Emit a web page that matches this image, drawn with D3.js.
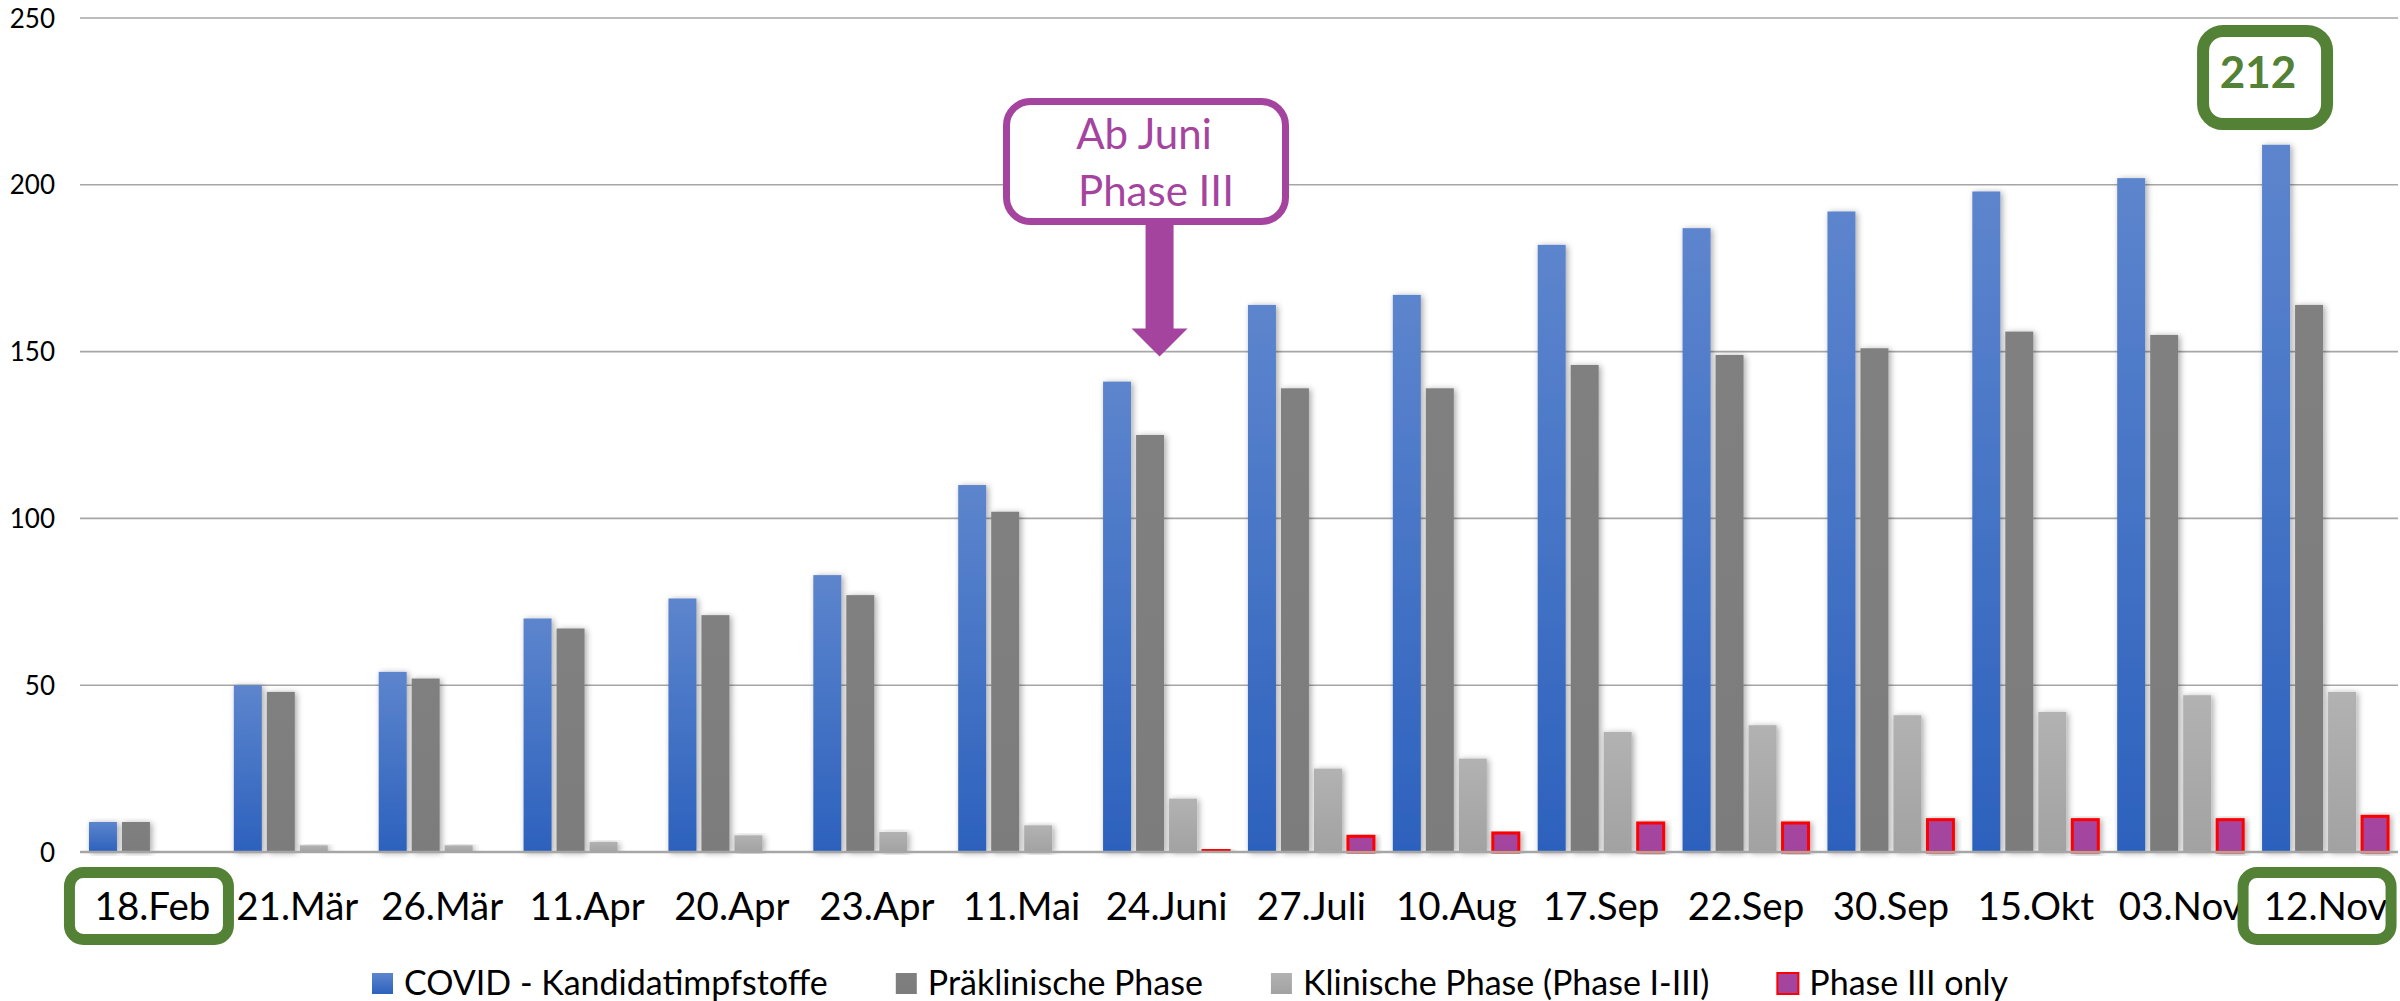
<!DOCTYPE html>
<html>
<head>
<meta charset="utf-8">
<script src="https://cdn.jsdelivr.net/npm/d3@7"></script>
<style>
  html, body { margin: 0; padding: 0; background: #ffffff; }
  svg { display: block; }
  text { font-family: Lato, "Open Sans", sans-serif; }
</style>
</head>
<body>
<svg id="chart" width="2400" height="1001"></svg>
<script>
// ---- data ----
const categories = ["18.Feb","21.Mär","26.Mär","11.Apr","20.Apr","23.Apr","11.Mai","24.Juni","27.Juli","10.Aug","17.Sep","22.Sep","30.Sep","15.Okt","03.Nov","12.Nov"];
const candidates  = [9, 50, 54, 70, 76, 83, 110, 141, 164, 167, 182, 187, 192, 198, 202, 212];
const preclinical = [9, 48, 52, 67, 71, 77, 102, 125, 139, 139, 146, 149, 151, 156, 155, 164];
const clinical    = [0, 2, 2, 3, 5, 6, 8, 16, 25, 28, 36, 38, 41, 42, 47, 48];
const phase3      = [0, 0, 0, 0, 0, 0, 0, 1, 5, 6, 9, 9, 10, 10, 10, 11];
const seriesNames = ["COVID - Kandidatimpfstoffe", "Präklinische Phase", "Klinische Phase (Phase I-III)", "Phase III only"];
const yTicks = [0, 50, 100, 150, 200, 250];
const calloutLines = ["Ab Juni", "Phase III"];
const highlightValue = "212";
const highlightCats = ["18.Feb", "12.Nov"];

const seriesValues = [candidates, preclinical, clinical, phase3];

// ---- layout ----
const svg = d3.select("#chart");
const W = 2400, H = 1001;
const plot = { left: 80, right: 2398, top: 18, bottom: 852 };

svg.append("rect").attr("width", W).attr("height", H).attr("fill", "#ffffff");

const defs = svg.append("defs");
function vgrad(id, top, bottom) {
  const g = defs.append("linearGradient").attr("id", id)
    .attr("x1", 0).attr("y1", 0).attr("x2", 0).attr("y2", 1);
  g.append("stop").attr("offset", "0%").attr("stop-color", top);
  g.append("stop").attr("offset", "100%").attr("stop-color", bottom);
}
vgrad("gBlue", "#5d85cd", "#2c61bd");
vgrad("gDark", "#808080", "#7c7c7c");
vgrad("gLight", "#b2b2b2", "#a2a2a2");
vgrad("gPurple", "#a6449f", "#a2449e");
const f = defs.append("filter").attr("id", "shadow")
  .attr("x", "-30%").attr("y", "-10%").attr("width", "160%").attr("height", "120%");
f.append("feDropShadow").attr("dx", 2).attr("dy", 1).attr("stdDeviation", 3)
  .attr("flood-color", "#000").attr("flood-opacity", 0.35);

const seriesFill = ["url(#gBlue)", "url(#gDark)", "url(#gLight)", "url(#gPurple)"];
const legendFill = ["url(#gBlue)", "url(#gDark)", "url(#gLight)", "url(#gPurple)"];

const x = d3.scaleBand().domain(categories).range([plot.left, plot.right]).paddingInner(0).paddingOuter(0);
const xs = d3.scaleBand().domain(d3.range(4)).range([0, x.bandwidth()]).paddingInner(0.1515).paddingOuter(0.271);
const y = d3.scaleLinear().domain([0, 250]).range([plot.bottom, plot.top]);

// gridlines
svg.append("g").selectAll("line").data(yTicks.filter(t => t > 0)).join("line")
  .attr("x1", plot.left).attr("x2", plot.right)
  .attr("y1", d => y(d)).attr("y2", d => y(d))
  .attr("stroke", "#a6a6a6").attr("stroke-width", 1.6);

// y axis labels
const yAxis = d3.axisLeft(y).tickValues(yTicks).tickSize(0).tickPadding(0);
const yg = svg.append("g").attr("transform", `translate(55,0)`).call(yAxis);
yg.select(".domain").remove();
yg.selectAll("text").attr("font-size", 26).attr("fill", "#000")
  .style("font-family", "Lato, sans-serif").attr("dy", "0.35em");

// bars
const groups = svg.append("g").selectAll("g").data(categories).join("g")
  .attr("transform", d => `translate(${x(d)},0)`);
groups.each(function(cat, ci) {
  const g = d3.select(this);
  seriesValues.forEach((vals, si) => {
    const v = vals[ci];
    if (!v) return;
    const r = g.append("rect")
      .attr("x", xs(si)).attr("width", xs.bandwidth())
      .attr("y", y(v)).attr("height", y(0) - y(v))
      .attr("fill", seriesFill[si])
      .attr("filter", "url(#shadow)");
    if (si === 3) {
      r.attr("stroke", "#ff0000").attr("stroke-width", 3)
        .attr("x", xs(si) + 1).attr("width", xs.bandwidth() - 2)
        .attr("y", y(v) + 1).attr("height", Math.max(0, y(0) - y(v) - 1));
    }
  });
});

// baseline
svg.append("line").attr("x1", plot.left).attr("x2", plot.right)
  .attr("y1", y(0)).attr("y2", y(0)).attr("stroke", "#a6a6a6").attr("stroke-width", 2.5);

// x labels
const xAxis = d3.axisBottom(x).tickSize(0).tickPadding(0);
const xg = svg.append("g").attr("transform", `translate(0,${y(0)})`).call(xAxis);
xg.select(".domain").remove();
xg.selectAll("text").attr("font-size", 38.5).attr("fill", "#000")
  .style("font-family", "Lato, sans-serif").attr("dy", 0).attr("y", 68);

// green highlight boxes around category labels
highlightCats.forEach(c => {
  const cx = x(c) + x.bandwidth() / 2;
  const i = categories.indexOf(c);
  const w = i === 0 ? 159 : 148;
  svg.append("rect")
    .attr("x", i === 0 ? cx - 83 : cx - 82.5).attr("y", 872.5)
    .attr("width", w).attr("height", 67)
    .attr("rx", 14).attr("ry", 14)
    .attr("fill", "none").attr("stroke", "#538135").attr("stroke-width", 11);
});

// "212" callout
const lastCat = categories[categories.length - 1];
const blueCenter = x(lastCat) + xs(0) + xs.bandwidth() / 2;
const bx = blueCenter - 11;
svg.append("rect").attr("x", bx - 62).attr("y", 31).attr("width", 124).attr("height", 93)
  .attr("rx", 20).attr("ry", 20).attr("fill", "#fff")
  .attr("stroke", "#538135").attr("stroke-width", 12);
svg.append("text").attr("x", bx - 7).attr("y", 88).attr("text-anchor", "middle")
  .attr("font-size", 44).attr("font-weight", "bold").attr("fill", "#538135")
  .text(highlightValue);

// "Ab Juni Phase III" callout with arrow
const junCat = categories[7];
const tipX = x(junCat) + x.bandwidth() / 2 - 7;
const tipY = y(148.5);
const purple = "#a5449f";
svg.append("path")
  .attr("d", `M${tipX - 14},${222} L${tipX + 14},${222} L${tipX + 14},${tipY - 28} L${tipX + 28},${tipY - 28} L${tipX},${tipY} L${tipX - 28},${tipY - 28} L${tipX - 14},${tipY - 28} Z`)
  .attr("fill", purple);
svg.append("rect").attr("x", 1006.5).attr("y", 101.5).attr("width", 279).attr("height", 120)
  .attr("rx", 24).attr("ry", 24).attr("fill", "#fff")
  .attr("stroke", purple).attr("stroke-width", 7);
svg.append("text").attr("x", 1144).attr("y", 149).attr("text-anchor", "middle")
  .attr("font-size", 42).attr("fill", purple).text(calloutLines[0]);
svg.append("text").attr("x", 1156).attr("y", 206).attr("text-anchor", "middle")
  .attr("font-size", 42).attr("fill", purple).text(calloutLines[1]);

// legend
const leg = svg.append("g");
const items = leg.selectAll("g").data(seriesNames).join("g");
items.append("rect").attr("width", 21).attr("height", 21).attr("y", 973)
  .attr("fill", (d, i) => legendFill[i])
  .attr("stroke", (d, i) => i === 3 ? "#ff0000" : "none").attr("stroke-width", 2);
items.append("text").attr("x", 32).attr("y", 995).attr("font-size", 34).attr("fill", "#000").text(d => d);
let widths = [];
items.each(function() { widths.push(d3.select(this).select("text").node().getComputedTextLength()); });
const gap = 68;
const total = d3.sum(widths.map(w => 32 + w)) + gap * (widths.length - 1);
let cur = 1190 - total / 2;
items.each(function(d, i) {
  d3.select(this).attr("transform", `translate(${cur},0)`);
  cur += 32 + widths[i] + gap;
});
</script>
</body>
</html>
